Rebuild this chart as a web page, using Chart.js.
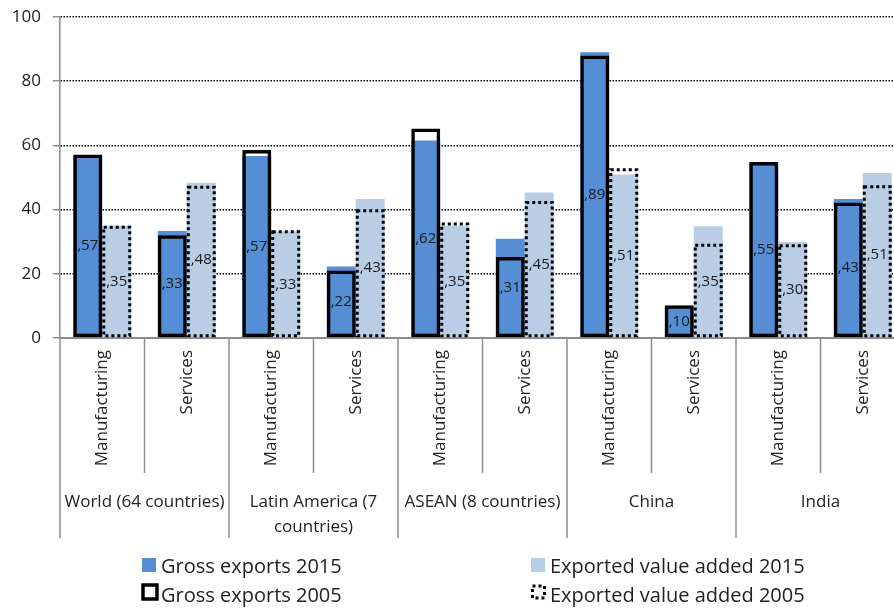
<!DOCTYPE html>
<html>
<head>
<meta charset="utf-8">
<script src="https://cdn.jsdelivr.net/npm/chart.js@4"></script>
<style>
  html, body { margin: 0; padding: 0; background: #fff; overflow: hidden; }
  #wrap { width: 910px; height: 608px; }
</style>
</head>
<body>
<div id="wrap"><canvas id="chart" width="910" height="608"></canvas></div>
<script>
// ---- data ----
const groups = [['World (64 countries)'], ['Latin America (7', 'countries)'], ['ASEAN (8 countries)'], ['China'], ['India']];
const sectors = ['Manufacturing', 'Services'];
const grossExports2015 = [57, 33.3, 56.7, 22.3, 61.5, 30.9, 89, 9.8, 54.6, 43.3];
const valueAdded2015 = [35, 48.4, 33.2, 43.3, 35, 45.3, 50.9, 34.8, 29.9, 51.4];
const grossExports2005 = [57.2, 32, 58.6, 21, 65.3, 25.2, 88, 10.2, 54.8, 42.2];
const valueAdded2005 = [35, 47.4, 33.6, 40.1, 36, 42.7, 52.9, 29.4, 29.2, 47.6];
const yTicks = [0, 20, 40, 60, 80, 100];

const categories = groups.flatMap(() => sectors);

const BLUE = '#558ED5';
const LIGHT = '#B9CDE5';
const AXIS = '#8c8c8c';
const TEXT = '#222';

Chart.defaults.font.family = '"Open Sans", sans-serif';
Chart.defaults.color = TEXT;

const fmt = (v) => ',' + String(Math.round(v)).padStart(2, '0');

// dotted outlines for 2005 value added + data labels
const overlays = {
  id: 'overlays',
  afterDatasetsDraw(chart) {
    const ctx = chart.ctx;
    ctx.save();
    ctx.strokeStyle = '#000';
    ctx.lineWidth = 3;
    ctx.setLineDash([3, 3]);
    chart.getDatasetMeta(3).data.forEach((el) => {
      const {x, y, base, width} = el.getProps(['x', 'y', 'base', 'width'], true);
      ctx.strokeRect(x - width / 2 + 1.5, y + 1.5, width - 3, base - y - 3);
    });
    ctx.setLineDash([]);
    ctx.fillStyle = '#1a1a1a';
    ctx.font = '15px "Open Sans"';
    ctx.textAlign = 'center';
    ctx.textBaseline = 'middle';
    [0, 1].forEach((di) => {
      const vals = chart.data.datasets[di].data;
      chart.getDatasetMeta(di).data.forEach((el, i) => {
        const {x, y, base} = el.getProps(['x', 'y', 'base'], true);
        ctx.fillText(fmt(vals[i]), x, (y + base) / 2);
      });
    });
    ctx.restore();
  }
};

// category separators, group labels and 2x2 legend
const groupAxis = {
  id: 'groupAxis',
  afterDraw(chart) {
    const {ctx, chartArea} = chart;
    const x = chart.scales.x;
    const half = (x.getPixelForValue(1) - x.getPixelForValue(0)) / 2;
    ctx.save();
    ctx.strokeStyle = AXIS;
    ctx.lineWidth = 1.5;
    for (let i = 0; i <= categories.length; i++) {
      const px = i < categories.length ? x.getPixelForValue(i) - half : x.getPixelForValue(i - 1) + half;
      const outer = i % sectors.length === 0;
      ctx.beginPath();
      ctx.moveTo(px, chartArea.bottom);
      ctx.lineTo(px, chartArea.bottom + (outer ? 200 : 135));
      ctx.stroke();
    }
    ctx.fillStyle = TEXT;
    ctx.font = '17px "Open Sans"';
    ctx.textAlign = 'center';
    ctx.textBaseline = 'middle';
    groups.forEach((lines, gi) => {
      const cx = (x.getPixelForValue(gi * 2) + x.getPixelForValue(gi * 2 + 1)) / 2;
      lines.forEach((t, li) => ctx.fillText(t, cx, chartArea.bottom + 164 + li * 25));
    });

    // legend (2 x 2)
    const cols = [142, 531];
    const rows = [573, 602];
    ctx.font = '20px "Open Sans"';
    ctx.textAlign = 'left';
    ctx.textBaseline = 'alphabetic';
    chart.data.datasets.forEach((ds, i) => {
      const c = i % 2, r = Math.floor(i / 2);
      const bx = cols[c], by = rows[r] - 9;
      if (r === 0) {
        ctx.fillStyle = ds.backgroundColor;
        ctx.fillRect(bx, by - 6, 14, 14);
      } else if (c === 0) {
        ctx.strokeStyle = '#000';
        ctx.lineWidth = 3.5;
        ctx.strokeRect(bx + 1, by - 8, 14, 14);
      } else {
        ctx.strokeStyle = '#000';
        ctx.lineWidth = 3;
        ctx.setLineDash([3, 3]);
        ctx.strokeRect(bx + 1.5, by - 7, 12, 12);
        ctx.setLineDash([]);
      }
      ctx.fillStyle = TEXT;
      ctx.fillText(ds.label, bx + 19, rows[r]);
    });
    ctx.restore();
  }
};

const barOpts = { categoryPercentage: 0.686, barPercentage: 1.0 };

new Chart(document.getElementById('chart'), {
  type: 'bar',
  data: {
    labels: categories,
    datasets: [
      { label: 'Gross exports 2015', data: grossExports2015, backgroundColor: BLUE, borderWidth: 0, stack: 'gross', order: 2, ...barOpts },
      { label: 'Exported value added 2015', data: valueAdded2015, backgroundColor: LIGHT, borderWidth: 0, stack: 'va', order: 2, ...barOpts },
      { label: 'Gross exports 2005', data: grossExports2005, backgroundColor: 'rgba(0,0,0,0)', borderColor: '#000', borderWidth: 3.5, borderSkipped: false, stack: 'gross', order: 1, ...barOpts },
      { label: 'Exported value added 2005', data: valueAdded2005, backgroundColor: 'rgba(0,0,0,0)', borderWidth: 0, stack: 'va', order: 1, ...barOpts }
    ]
  },
  options: {
    responsive: false,
    maintainAspectRatio: false,
    devicePixelRatio: 1,
    animation: false,
    layout: { padding: { top: 17, right: 5, bottom: 70, left: 0 } },
    plugins: { legend: { display: false }, tooltip: { enabled: false } },
    scales: {
      x: {
        type: 'category',
        offset: true,
        grid: { display: false, drawTicks: false },
        border: { display: true, color: AXIS, width: 2 },
        ticks: { autoSkip: false, minRotation: 90, maxRotation: 90, padding: 12, font: { size: 17 }, color: TEXT },
        afterFit: (scale) => { scale.height = 200; }
      },
      y: {
        min: 0,
        max: 100,
        stacked: false,
        afterBuildTicks: (scale) => { scale.ticks = yTicks.map((v) => ({ value: v })); },
        grid: {
          color: (c) => (c.tick && c.tick.value === 0 ? 'rgba(0,0,0,0)' : '#000'),
          lineWidth: 1.4,
          tickColor: AXIS,
          tickLength: 7,
          tickWidth: 1.5,
          tickBorderDash: []
        },
        border: { display: true, color: AXIS, width: 1.5, dash: [1.5, 1.5] },
        ticks: { padding: 12, font: { size: 17 }, color: TEXT },
        afterFit: (scale) => { scale.width = 60; scale.paddingTop = 0; scale.paddingBottom = 0; }
      }
    }
  },
  plugins: [overlays, groupAxis]
});
</script>
</body>
</html>
